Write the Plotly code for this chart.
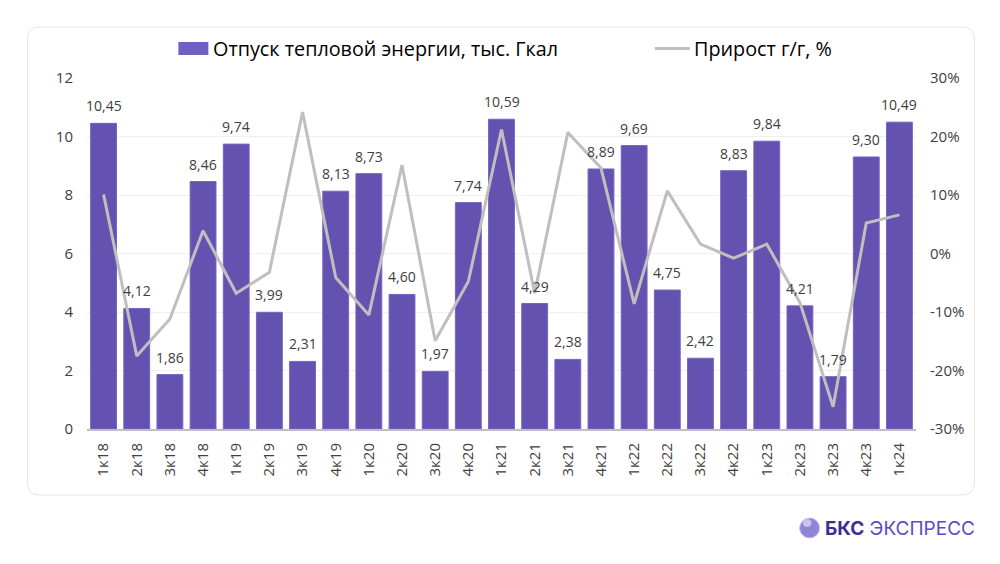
import plotly.graph_objects as go

categories = ["1к18", "2к18", "3к18", "4к18", "1к19", "2к19", "3к19", "4к19",
              "1к20", "2к20", "3к20", "4к20", "1к21", "2к21", "3к21", "4к21",
              "1к22", "2к22", "3к22", "4к22", "1к23", "2к23", "3к23", "4к23", "1к24"]
heat = [10.45, 4.12, 1.86, 8.46, 9.74, 3.99, 2.31, 8.13,
        8.73, 4.60, 1.97, 7.74, 10.59, 4.29, 2.38, 8.89,
        9.69, 4.75, 2.42, 8.83, 9.84, 4.21, 1.79, 9.30, 10.49]
growth = [10.1, -17.5, -11.2, 3.9, -6.8, -3.2, 24.2, -4.1,
          -10.5, 15.1, -14.9, -4.8, 21.2, -6.8, 20.7, 14.6,
          -8.6, 10.7, 1.6, -0.8, 1.6, -8.4, -26.2, 5.2, 6.6]
left_ticks = [0, 2, 4, 6, 8, 10, 12]
right_ticks = [-30, -20, -10, 0, 10, 20, 30]
right_labels = ["-30%", "-20%", "-10%", "0%", "10%", "20%", "30%"]
bar_name = "Отпуск тепловой энергии, тыс. Гкал"
line_name = "Прирост г/г, %"

FONT = "Open Sans"
TXT = "#404040"
BAR = "#6452B0"
LINE = "#BFBFBF"
CLEAR = "rgba(0,0,0,0)"

fig = go.Figure()
fig.add_trace(go.Bar(
    x=categories, y=heat, name=bar_name, showlegend=False,
    marker=dict(color=BAR, line=dict(color="#7565C0", width=1)),
))
fig.add_trace(go.Scatter(
    x=categories, y=growth, name=line_name, yaxis="y2", showlegend=False,
    mode="lines", line=dict(color=LINE, width=3),
))

L, R, T, B = 86.5, 83.5, 78, 135
pw, ph = 1000 - L - R, 564 - T - B
def px(x): return (x - L) / pw
def py(y): return (564 - B - y) / ph

# rounded card border
x0, x1, y0, y1 = px(27), px(975), py(27), py(495)
rx, ry = 12 / pw, 12 / ph
path = (f"M {x0+rx},{y0} L {x1-rx},{y0} Q {x1},{y0} {x1},{y0-ry} "
        f"L {x1},{y1+ry} Q {x1},{y1} {x1-rx},{y1} L {x0+rx},{y1} "
        f"Q {x0},{y1} {x0},{y1+ry} L {x0},{y0-ry} Q {x0},{y0} {x0+rx},{y0} Z")
shapes = [dict(type="path", xref="paper", yref="paper", path=path,
               line=dict(color="#E6E6E6", width=1), layer="below")]
# legend swatches
shapes.append(dict(type="rect", xref="paper", yref="paper",
                   x0=px(178), x1=px(208), y0=py(55), y1=py(42),
                   fillcolor="#6F5FC0", line=dict(width=0)))
shapes.append(dict(type="line", xref="paper", yref="paper",
                   x0=px(655), x1=px(690), y0=py(48.5), y1=py(48.5),
                   line=dict(color=LINE, width=3)))
# logo sphere
cx, cy, r = 810, 528, 10
shapes.append(dict(type="circle", xref="paper", yref="paper",
                   x0=px(cx - r), x1=px(cx + r), y0=py(cy + r), y1=py(cy - r),
                   fillcolor="#8E85D6", line=dict(color="#C4BFEE", width=1)))
shapes.append(dict(type="circle", xref="paper", yref="paper",
                   x0=px(cx - 7), x1=px(cx + 2), y0=py(cy - 1), y1=py(cy - 9),
                   fillcolor="#D6D2F4", line=dict(width=0), opacity=0.8))

annotations = []
for c, v in zip(categories, heat):
    annotations.append(dict(x=c, y=v, xref="x", yref="y", yanchor="bottom",
                            yshift=6, showarrow=False,
                            text=f"{v:.2f}".replace(".", ","),
                            font=dict(family=FONT, size=14, color=TXT)))
annotations += [
    dict(xref="paper", yref="paper", x=px(211), y=py(48.5), xanchor="left",
         yanchor="middle", showarrow=False, text=bar_name,
         font=dict(family=FONT, size=19.8, color="#000000")),
    dict(xref="paper", yref="paper", x=px(692), y=py(48.5), xanchor="left",
         yanchor="middle", showarrow=False, text=line_name,
         font=dict(family=FONT, size=19.8, color="#000000")),
    dict(xref="paper", yref="paper", x=px(823), y=py(528), xanchor="left",
         yanchor="middle", showarrow=False,
         text="<b><span style='color:#3B2F94'>БКС</span></b> "
              "<span style='color:#5A4CC2'>ЭКСПРЕСС</span>",
         font=dict(family="Inter", size=19)),
]

fig.update_layout(
    width=1000, height=564,
    margin=dict(l=L, r=R, t=T, b=B, autoexpand=False),
    paper_bgcolor="white", plot_bgcolor="white",
    bargap=0.22,
    font=dict(family=FONT, color=TXT, size=14),
    showlegend=False,
    xaxis=dict(type="category", range=[-0.5, len(categories) - 0.5], tickangle=-90,
               showline=True, linecolor="#BFBFBF", linewidth=2,
               ticks="outside", ticklen=6, tickcolor=CLEAR,
               tickfont=dict(size=15, color=TXT), showgrid=False, automargin=False),
    yaxis=dict(range=[0, 12], tickvals=left_ticks, showgrid=True, gridcolor="#F0F0F0",
               zeroline=False, ticks="outside", ticklen=10, tickcolor=CLEAR,
               tickfont=dict(size=15, color=TXT), automargin=False),
    yaxis2=dict(range=[-30, 30], overlaying="y", side="right", tickvals=right_ticks,
                ticktext=right_labels, showgrid=False, zeroline=False,
                ticks="outside", ticklen=10, tickcolor=CLEAR,
                tickfont=dict(size=15, color=TXT), automargin=False),
    shapes=shapes,
    annotations=annotations,
)
fig.write_html("out.html")
